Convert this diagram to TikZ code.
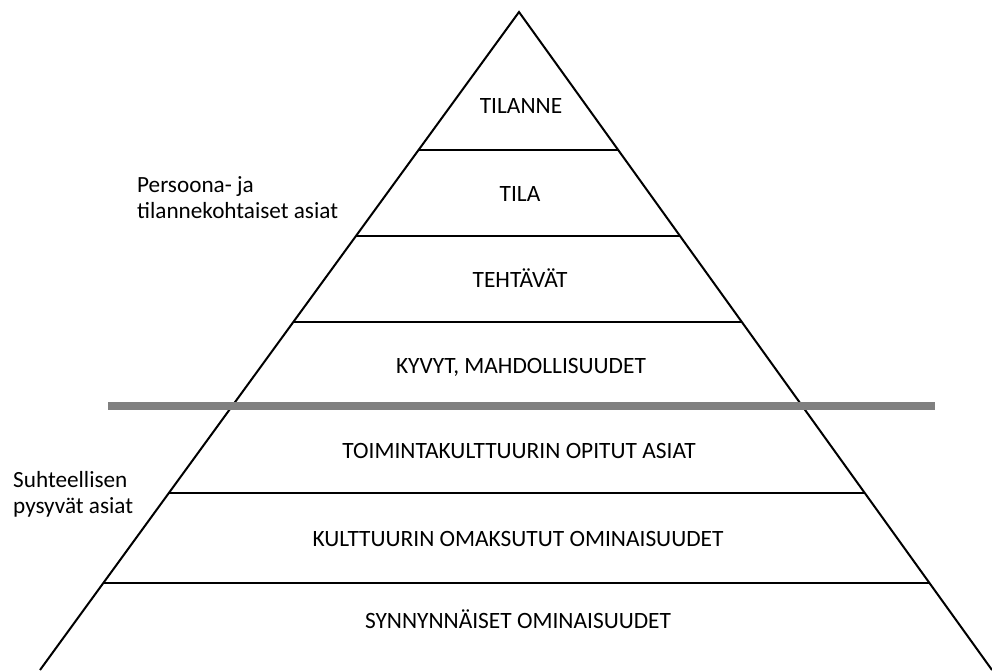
\documentclass[tikz,border=0pt]{standalone}
\usepackage{fontspec}
\setmainfont{Carlito}
\usetikzlibrary{calc}
\begin{document}
\begin{tikzpicture}[x=1pt,y=-1pt,
  side/.style={line width=2pt,black},
  level/.style={line width=2pt,black},
  lab/.style={anchor=base,inner sep=0pt,font=\fontsize{23.4}{26}\selectfont},
  side label/.style={anchor=base west,inner sep=0pt,font=\fontsize{23.2}{26}\selectfont}]
\useasboundingbox (0,0) rectangle (992,670);
\coordinate (A) at (519,12);
\coordinate (L) at (40,670);
\coordinate (R) at (992,670);
\draw[side] (L) -- (A) -- (R);
\foreach \t in {0.2097,0.3404,0.4711,0.7310,0.8678}
  \draw[level] ($(A)!\t!(L)$) -- ($(A)!\t!(R)$);
\coordinate (g1) at (108,406);
\coordinate (g2) at (935,406);
\draw[line width=8pt,color=gray] (g1) -- (g2);
\node[lab] (n1) at (521,113) {TILANNE};
\node[lab] (n2) at (520,201) {TILA};
\node[lab] (n3) at (520,287) {TEHTÄVÄT};
\node[lab] (n4) at (521,373) {KYVYT, MAHDOLLISUUDET};
\node[lab] (n5) at (519,458) {TOIMINTAKULTTUURIN OPITUT ASIAT};
\node[lab] (n6) at (518,546) {KULTTUURIN OMAKSUTUT OMINAISUUDET};
\node[lab] (n7) at (518,628) {SYNNYNNÄISET OMINAISUUDET};
\node[side label] (p1) at (137,192) {Persoona- ja};
\node[side label] (p2) at (137,218) {tilannekohtaiset asiat};
\node[side label] (s1) at (13,487) {Suhteellisen};
\node[side label] (s2) at (13,513) {pysyvät asiat};
\end{tikzpicture}
\end{document}
